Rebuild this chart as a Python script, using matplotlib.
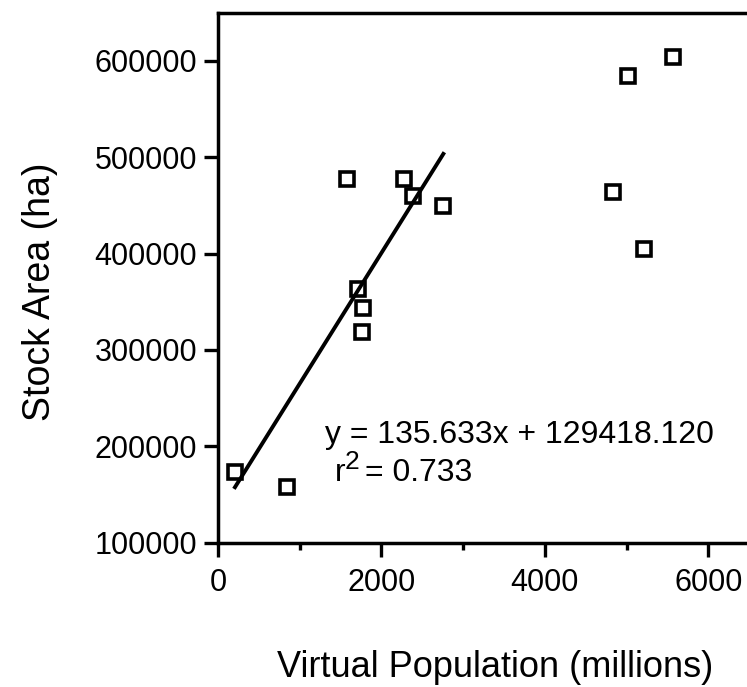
import matplotlib.pyplot as plt
import numpy as np

plt.rcParams['font.family'] = ['Liberation Sans', 'DejaVu Sans']

# virtual population (millions) vs stock area (ha)
population = [208, 848, 1575, 2277, 2391, 2758, 1710, 1771, 1759,
              4839, 5015, 5211, 5565]
stock_area = [173600, 158000, 477600, 477900, 459500, 449800, 363200,
              343400, 319100, 464000, 584200, 404800, 604400]
fit_count = 9  # first points are the ones used in the regression
slope = 135.633
intercept = 129418.120
r2 = 0.733

x_ticks = [0, 2000, 4000, 6000]
x_minor = [1000, 3000, 5000]
y_ticks = [100000, 200000, 300000, 400000, 500000, 600000]


def main():
    fig = plt.figure(figsize=(7.47, 6.87), dpi=100)
    ax = fig.add_axes([0.2918, 0.210, 0.711, 0.7715])

    ax.plot(population, stock_area, ls='none', marker='s', ms=10,
            mfc='none', mec='black', mew=2.6, zorder=3)

    # regression line over the fitted points
    xs = np.array([min(population[:fit_count]), max(population[:fit_count])])
    ax.plot(xs, slope * xs + intercept, color='black', lw=2.8)

    ax.text(1310, 211700, f'y = {slope:.3f}x + {intercept:.3f}',
            fontsize=23, va='center', ha='left')
    # r^2 with a big superscript like the original
    ax.text(1432, 172300, 'r', fontsize=23, va='center', ha='left')
    ax.annotate('2', (1432, 172300), xytext=(7, 8), textcoords='offset points',
                fontsize=19, va='center', ha='left')
    ax.annotate(f'= {r2:.3f}', (1432, 172300), xytext=(21.5, 0),
                textcoords='offset points', fontsize=23, va='center', ha='left')

    ax.set_xlim(0, 6500)
    ax.set_ylim(100000, 650000)
    ax.set_xticks(x_ticks)
    ax.set_xticks(x_minor, minor=True)
    ax.set_yticks(y_ticks)
    ax.tick_params(axis='both', which='major', direction='out', length=10,
                   width=2.4, labelsize=22, colors='black')
    ax.tick_params(axis='x', which='major', pad=8)
    ax.tick_params(axis='y', which='major', pad=5)
    ax.tick_params(axis='x', which='minor', direction='out', length=5, width=2.4)
    for s in ax.spines.values():
        s.set_linewidth(2.5)

    ax.set_xlabel('Virtual Population (millions)', fontsize=26, va='center')
    ax.xaxis.set_label_coords(0.5226, -0.2345)
    ax.set_ylabel('Stock Area (ha)', fontsize=27, va='center')
    ax.yaxis.set_label_coords(-0.335, 0.473)

    fig.savefig('out.png', dpi=100)


if __name__ == '__main__':
    main()
